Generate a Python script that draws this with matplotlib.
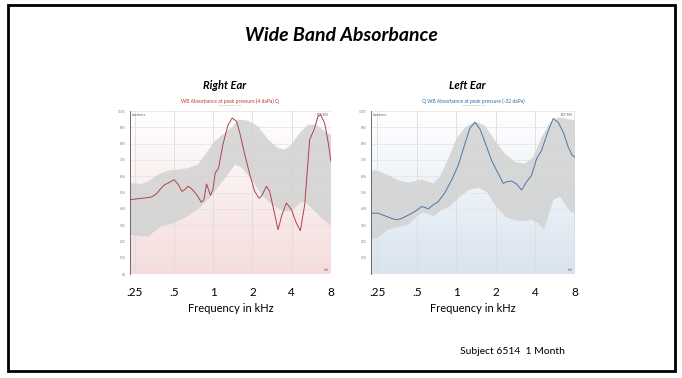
import numpy as np
import matplotlib
matplotlib.use("Agg")
from matplotlib import pyplot as plt
from matplotlib.colors import LinearSegmentedColormap
from matplotlib.patches import Rectangle

plt.rcParams['font.family'] = ['Lato', 'DejaVu Sans']

# Right ear: measured absorbance (%) vs frequency (kHz)
right_freq = [0.229, 0.281, 0.335, 0.366, 0.400, 0.424, 0.463, 0.500, 0.537,
              0.576, 0.603, 0.640, 0.671, 0.720, 0.763, 0.810, 0.848, 0.889,
              0.921, 0.954, 0.994, 1.036, 1.099, 1.186, 1.295, 1.398, 1.509,
              1.60, 1.747, 1.91, 2.08, 2.24, 2.34, 2.56, 2.71, 2.93, 3.14,
              3.37, 3.64, 3.98, 4.34, 4.66, 5.03, 5.49, 5.93, 6.36, 6.67,
              7.15, 7.59, 8.0]
right_abs = [45.6, 46.4, 47.2, 49.1, 52.8, 54.8, 56.2, 57.9, 55.2,
             50.7, 51.7, 53.8, 52.8, 50.3, 47.6, 44.0, 45.6, 55.2,
             51.7, 48.3, 51.7, 62.0, 65.0, 79.3, 91.2, 95.7, 93.7,
             86.5, 73.2, 60.9, 50.7, 46.6, 47.6, 53.8, 50.7, 38.4, 27.2,
             36.4, 43.6, 39.5, 31.3, 26.6, 42.5, 82.4, 88.5, 96.7, 97.8,
             92.6, 81.4, 69.1]

# Right ear: normative 10%-90% range
right_hi_freq = [0.229, 0.281, 0.319, 0.377, 0.450, 0.537, 0.640, 0.763, 0.884,
                 1.024, 1.221, 1.414, 1.555, 1.85, 2.21, 2.64, 3.14, 3.54,
                 3.98, 4.61, 5.33, 6.18, 7.15, 8.0]
right_hi = [55.8, 55.2, 56.9, 60.9, 63.4, 64.0, 65.0, 67.1, 74.2,
            81.4, 86.5, 90.6, 94.7, 94.1, 90.6, 82.4, 77.3, 76.3,
            79.3, 86.5, 91.6, 91.6, 87.5, 85.5]
right_lo_freq = [0.229, 0.281, 0.319, 0.356, 0.400, 0.503, 0.640, 0.810, 0.965,
                 1.151, 1.414, 1.465, 1.65, 1.97, 2.34, 2.80, 3.43, 3.98,
                 4.61, 5.03, 5.66, 6.75, 8.0]
right_lo = [24.1, 23.1, 23.1, 26.2, 29.2, 31.3, 35.4, 41.5, 47.6,
            55.8, 65.0, 67.1, 65.4, 57.9, 48.7, 42.5, 38.9, 38.4,
            43.6, 44.6, 40.5, 34.4, 29.9]

# Left ear: measured absorbance (%) vs frequency (kHz)
left_freq = [0.224, 0.254, 0.286, 0.322, 0.351, 0.383, 0.431, 0.485, 0.545,
             0.578, 0.613, 0.669, 0.730, 0.821, 0.923, 1.038, 1.167, 1.275,
             1.392, 1.520, 1.659, 1.865, 2.097, 2.290, 2.428, 2.652, 2.895,
             3.160, 3.451, 3.768, 4.115, 4.49, 5.05, 5.51, 6.02, 6.58, 7.18,
             7.70, 8.07]
left_abs = [37.3, 37.3, 35.7, 34.1, 33.3, 34.1, 36.1, 38.4, 41.4,
            40.8, 40.0, 42.4, 44.4, 49.9, 57.6, 66.7, 79.9, 89.6,
            93.0, 89.0, 80.9, 69.7, 61.6, 55.6, 56.6, 57.0, 55.2,
            51.5, 56.6, 60.6, 70.7, 75.8, 87.9, 95.4, 93.0, 86.9, 77.8,
            72.8, 71.8]

# Left ear: normative 10%-90% range
left_hi_freq = [0.224, 0.254, 0.303, 0.362, 0.431, 0.545, 0.669, 0.752, 0.871,
                1.006, 1.167, 1.392, 1.659, 1.978, 2.357, 2.811, 3.352, 3.88,
                4.49, 5.20, 6.02, 7.18, 8.07]
left_hi = [63.7, 63.3, 60.6, 57.6, 56.0, 58.0, 55.6, 59.6, 70.7,
           82.9, 90.0, 93.6, 91.0, 81.9, 73.8, 68.7, 67.7, 71.8,
           83.9, 93.0, 96.1, 95.0, 94.4]
left_lo_freq = [0.224, 0.254, 0.303, 0.362, 0.431, 0.514, 0.561, 0.613, 0.669,
                0.774, 0.897, 1.038, 1.238, 1.475, 1.709, 1.978, 2.357, 2.811,
                3.254, 3.768, 4.236, 4.68, 5.05, 5.51, 6.20, 6.97, 7.61, 8.07]
left_lo = [21.2, 22.6, 27.2, 28.8, 30.3, 36.3, 37.8, 36.9, 35.3,
           39.4, 41.4, 46.5, 51.5, 52.9, 50.5, 42.4, 35.3, 32.9,
           32.3, 33.3, 31.3, 27.2, 35.3, 45.4, 47.5, 41.4, 37.8, 37.3]

octave_ticks = [0.25, 0.5, 1, 2, 4, 8]
octave_labels = ['.25', '.5', '1', '2', '4', '8']
pct_ticks = list(range(0, 101, 10))


def draw_ear(ax, freq, absorb, hi_f, hi, lo_f, lo, xlim, line_color,
             bg_color, title, title_color, zero_label=True):
    # soft vertical gradient behind the plot
    cmap = LinearSegmentedColormap.from_list('bg', ['white', bg_color])
    grad = np.linspace(0, 1, 256).reshape(-1, 1)
    ax.imshow(grad, cmap=cmap, aspect='auto', extent=[0, 1, 0, 1],
              transform=ax.transAxes, zorder=0)

    ax.set_xscale('log')
    ax.set_xlim(*xlim)
    ax.set_ylim(0, 100)

    for f in octave_ticks:
        ax.axvline(f, color='#dcdcdc', lw=0.6, zorder=1)
    for p in pct_ticks:
        ax.axhline(p, color='#e2e2e2', lw=0.5, zorder=1)

    # normative band as a closed polygon
    band_x = list(hi_f) + list(lo_f)[::-1]
    band_y = list(hi) + list(lo)[::-1]
    ax.fill(band_x, band_y, color='#d2d2d2', alpha=0.85, lw=0, zorder=2)

    ax.plot(freq, absorb, color=line_color, lw=0.7, zorder=3)

    ax.set_xticks(octave_ticks)
    ax.set_xticklabels(octave_labels, fontsize=8.5)
    ax.xaxis.set_minor_locator(matplotlib.ticker.NullLocator())
    ax.tick_params(axis='x', length=0, pad=9)
    ax.set_xlabel('Frequency in kHz', fontsize=8, labelpad=4)

    ax.set_yticks(pct_ticks)
    ylabels = ['%d%%' % p for p in pct_ticks]
    if not zero_label:
        ylabels[0] = ''
    ax.set_yticklabels(ylabels, fontsize=2.2, color='#777777')
    ax.tick_params(axis='y', length=0, pad=3)

    for side in ['top', 'right', 'bottom']:
        ax.spines[side].set_visible(False)
    ax.spines['left'].set_color('#555555')
    ax.spines['left'].set_linewidth(0.6)

    ax.text(0.01, 0.985, 'absorbance', transform=ax.transAxes, fontsize=2,
            color='#555555', va='top', ha='left')
    ax.text(0.99, 0.985, '10%-90%', transform=ax.transAxes, fontsize=2,
            color='#555555', va='top', ha='right')
    ax.text(0.99, 0.01, 'kHz', transform=ax.transAxes, fontsize=2,
            color='#555555', va='bottom', ha='right')
    ax.text(0.5, 1.058, title, transform=ax.transAxes, fontsize=3.6,
            color=title_color, ha='center', va='center')
    ax.text(0.5, 1.032, 'WB Absorbance 4 kHz', transform=ax.transAxes,
            fontsize=1.6, color='#999999', ha='center', va='center')


fig = plt.figure(figsize=(6.82, 3.78), dpi=100)

ax_r = fig.add_axes([0.1906, 0.2751, 0.2947, 0.4312])
draw_ear(ax_r, right_freq, right_abs, right_hi_freq, right_hi,
         right_lo_freq, right_lo, (0.23, 8.0), '#b0424a', '#f6dcdc',
         'WB Absorbance at peak pressure (4 daPa) Q', '#c0392b')

ax_l = fig.add_axes([0.5440, 0.2751, 0.2990, 0.4312])
draw_ear(ax_l, left_freq, left_abs, left_hi_freq, left_hi,
         left_lo_freq, left_lo, (0.224, 8.07), '#4a78a6', '#d9e4f0',
         'Q WB Absorbance at peak pressure (-32 daPa)', '#2e6da4',
         zero_label=False)

fig.text(0.5, 0.907, 'Wide Band Absorbance', fontsize=14, fontweight='bold',
         fontstyle='italic', ha='center', va='center')
fig.text(0.33, 0.775, 'Right Ear', fontsize=8, fontweight='bold',
         fontstyle='italic', ha='center', va='center')
fig.text(0.685, 0.775, 'Left Ear', fontsize=8, fontweight='bold',
         fontstyle='italic', ha='center', va='center')
fig.text(0.674, 0.071, 'Subject 6514  1 Month', fontsize=7.5,
         ha='left', va='center')

# slide frame
fig.patches.append(Rectangle((0.012, 0.018), 0.978, 0.968, fill=False,
                             edgecolor='black', lw=2,
                             transform=fig.transFigure, figure=fig))

fig.savefig('out.png', dpi=100)
